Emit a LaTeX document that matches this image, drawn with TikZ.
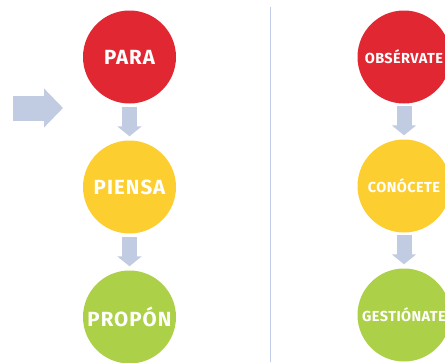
\documentclass[tikz,border=0pt]{standalone}
\usepackage{fontspec}
\setmainfont{Fira Sans}[LetterSpace=5]
\usetikzlibrary{arrows.meta,positioning}
\definecolor{rojo}{RGB}{225,40,50}
\definecolor{amarillo}{RGB}{253,206,47}
\definecolor{verde}{RGB}{172,208,72}
\definecolor{flechagris}{RGB}{193,203,226}
\definecolor{lineagris}{RGB}{192,204,232}

\begin{document}
\begin{tikzpicture}[x=1pt,y=-1pt,node distance={130pt},
    etapa/.style={circle,fill=#1,minimum size=93pt,inner sep=0pt,text=white,
      font=\bfseries\fontsize{20.5}{21}\selectfont},
    etapa chica/.style={etapa=#1,font=\bfseries\fontsize{14.5}{15}\selectfont\addfontfeature{LetterSpace=3}},
    flecha/.style={draw=flechagris,line width=15pt,-{Triangle[width=24pt,length=10pt]}},
    flecha grande/.style={draw=flechagris,line width=25pt,-{Triangle[width=38pt,length=19pt]}}]
    \useasboundingbox (0,0) rectangle (445,362);
    % columna izquierda
    \node[etapa=rojo] (para) at (129.5,57) {PARA};
    \node[etapa=amarillo] (piensa) [below of=para] {PIENSA};
    \node[etapa=verde] (propon) [below of=piensa] {PROPÓN};
    \draw[flecha] ([yshift=-3pt]para.south) -- ([yshift=4pt]piensa.north);
    \draw[flecha] ([yshift=-3pt]piensa.south) -- ([yshift=4pt]propon.north);
    \coordinate (entrada) at (13,108);
    \coordinate (entrada fin) at (63,108);
    \draw[flecha grande] (entrada) -- (entrada fin);
    % separador
    \coordinate (linea arriba) at (270.7,7);
    \coordinate (linea abajo) at (270.7,362);
    \draw[lineagris,line width=1pt] (linea arriba) -- (linea abajo);
    % columna derecha
    \begin{scope}[node distance={129pt}]
    \node[etapa chica=rojo] (observate) at (404,57) {OBSÉRVATE};
    \node[etapa chica=amarillo] (conocete) [below of=observate] {CONÓCETE};
    \node[etapa chica=verde] (gestionate) [below of=conocete] {GESTIÓNATE};
    \end{scope}
    \draw[flecha] ([yshift=-2pt]observate.south) -- ([yshift=4pt]conocete.north);
    \draw[flecha] ([yshift=-2pt]conocete.south) -- ([yshift=4pt]gestionate.north);
\end{tikzpicture}
\end{document}
